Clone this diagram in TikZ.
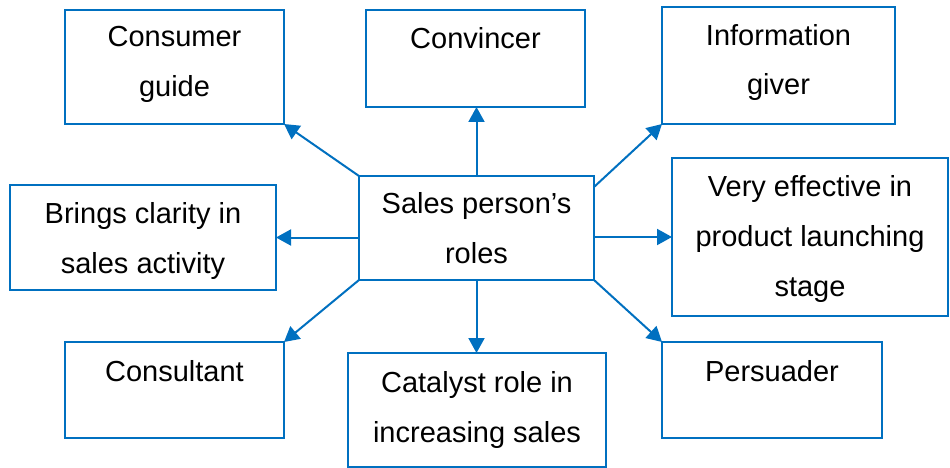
\documentclass[tikz,border=0pt]{standalone}
\usepackage{fontspec}
\setmainfont{Liberation Sans}
\usetikzlibrary{arrows.meta}
\definecolor{rblue}{HTML}{0070C0}
\begin{document}
\begin{tikzpicture}[x=1pt,y=-1pt,
  box/.style={draw=rblue, line width=1.6pt, rectangle, inner sep=0pt, outer sep=0pt, anchor=north west, fill=white},
  txt/.style={anchor=base, inner sep=0pt, font=\fontsize{29}{35}\selectfont, text=black},
  conn/.style={draw=rblue, line width=2pt, -{Triangle[length=15pt,width=16pt]}}]
\useasboundingbox (0,0) rectangle (950,468);
\fill[white] (0,0) rectangle (950,468);
% boxes
\node[box, minimum width=219pt, minimum height=114pt] (cg) at (65,10) {};
\node[box, minimum width=219pt, minimum height=97pt] (cv) at (366,10) {};
\node[box, minimum width=233pt, minimum height=117pt] (ig) at (662,7) {};
\node[box, minimum width=266pt, minimum height=105pt] (bc) at (10,185) {};
\node[box, minimum width=235pt, minimum height=104pt] (sp) at (359,176) {};
\node[box, minimum width=276pt, minimum height=158pt] (ve) at (672,158) {};
\node[box, minimum width=219pt, minimum height=96pt] (cs) at (65,342) {};
\node[box, minimum width=258pt, minimum height=114pt] (ca) at (348,353) {};
\node[box, minimum width=220pt, minimum height=96pt] (pe) at (662,342) {};
% texts
\node[txt] (cgA) at ([yshift=-37pt]cg.north) {Consumer};
\node[txt] (cgB) at ([yshift=-87pt]cg.north) {guide};
\node[txt] (cvA) at ([yshift=-39pt]cv.north) {Convincer};
\node[txt] (igA) at ([yshift=-39pt]ig.north) {Information};
\node[txt] (igB) at ([yshift=-88pt]ig.north) {giver};
\node[txt] (bcA) at ([yshift=-38pt]bc.north) {Brings clarity in};
\node[txt] (bcB) at ([yshift=-88pt]bc.north) {sales activity};
\node[txt] (spA) at ([yshift=-37pt]sp.north) {Sales person’s};
\node[txt] (spB) at ([yshift=-87pt]sp.north) {roles};
\node[txt] (veA) at ([yshift=-38pt]ve.north) {Very effective in};
\node[txt] (veB) at ([yshift=-88pt]ve.north) {product launching};
\node[txt] (veC) at ([yshift=-138pt]ve.north) {stage};
\node[txt] (csA) at ([yshift=-39pt]cs.north) {Consultant};
\node[txt] (caA) at ([yshift=-39pt]ca.north) {Catalyst role in};
\node[txt] (caB) at ([yshift=-89pt]ca.north) {increasing sales};
\node[txt] (peA) at ([yshift=-39pt]pe.north) {Persuader};
% connectors
\draw[conn] (sp.north) -- (sp.north |- cv.south);
\draw[conn] (sp.south) -- (sp.south |- ca.north);
\draw[conn] (sp.north west) -- (cg.south east);
\draw[conn] (sp.west |- bc.east) -- (bc.east);
\draw[conn] (sp.south west) -- (cs.north east);
\draw[conn] ([yshift=41pt]sp.east) -- (ig.south west);
\draw[conn] (sp.east |- ve.west) -- (ve.west);
\draw[conn] (sp.south east) -- (pe.north west);
\end{tikzpicture}
\end{document}
